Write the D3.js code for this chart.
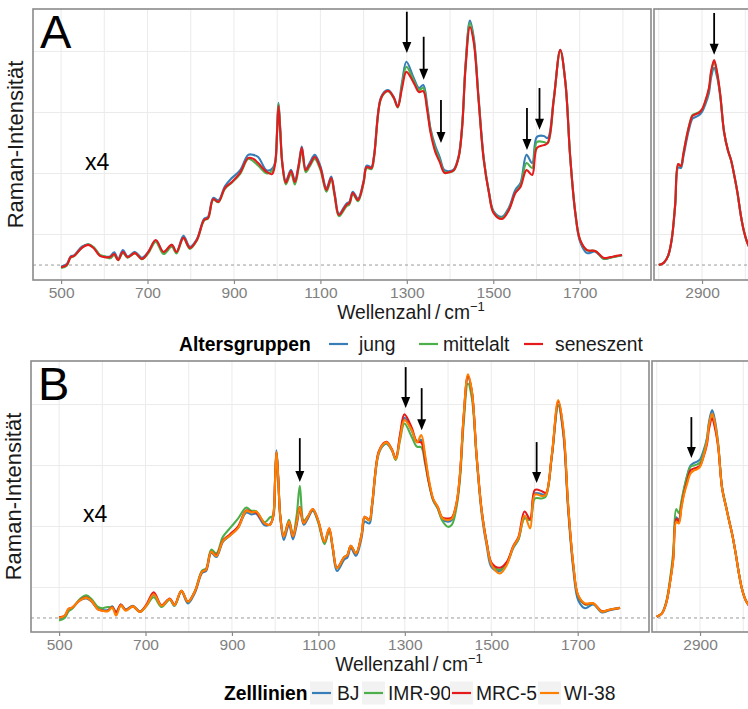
<!DOCTYPE html>
<html>
<head>
<meta charset="utf-8">
<script src="https://cdn.jsdelivr.net/npm/d3@7"></script>
<style>
  body { margin: 0; background: #fff; }
  svg { display: block; font-family: "Liberation Sans", Arial, Helvetica, sans-serif; }
</style>
</head>
<body>
<svg id="chart" width="748" height="709"></svg>
<script>
// ---- wavenumber grids (cm^-1) ----
const fpWavenumber = [500,513,522,530,548,563,575,590,600,613,623,632,643,654,671,687,702,719,737,756,
  767,783,798,814,831,840,852,864,879,895,914,933,945,956,976,988,995,1000,1003,1007,
  1012,1020,1032,1041,1050,1057,1066,1075,1087,1100,1114,1125,1133,1143,1160,1167,1175,1187,1200,1207,
  1218,1224,1239,1250,1258,1270,1279,1289,1299,1316,1328,1338,1347,1355,1366,1376,1387,1400,1409,1420,
  1428,1436,1446,1455,1466,1478,1490,1501,1520,1536,1551,1563,1577,1590,1601,1617,1626,1640,1655,1667,
  1678,1690,1701,1717,1736,1756,1771,1785,1798];
const hwWavenumber = [2800,2812,2822,2830,2838,2845,2851,2857,2863,2870,2878,2885,2892,2900,2907,2916,2921,2928,2935,2942,
  2951,2960,2967,2975,2982,2990,2997,3005,3015,3030,3050,3070,3090];

// ---- A: age groups, fingerprint region (x4) ----
const jungFP = [-0.5,0.3,2.8,3.2,6.0,6.8,5.8,3.2,2.8,2.8, 4.2,2.0,4.9,2.8,4.3,2.4,4.4,8.0,4.2,6.6,
  4.2,9.6,6.0,8.4,15.2,15.8,22.0,21.2,25.8,28.5, 31.0,36.1,36.1,35.4,31.0,31.5,33.5,45.0,53.2,45.0,
  33.5,27.6,31.2,27.8,33.2,38.8,31.5,33.4,36.1,32.4, 25.2,29.0,23.5,16.8,20.1,20.7,24.0,21.8,27.6,32.6,
  32.2,35.8,54.5,57.0,57.3,55.0,52.0,60.0,66.6,61.3, 58.0,59.0,52.5,44.6,39.0,35.4,31.1,30.8,31.4,35.8,
  45.8,66.0,80.1,74.4,55.0,35.0,24.0,17.6,15.8,18.8, 24.6,26.9,36.1,33.4,42.0,42.3,41.6,54.6,70.5,59.7,
  35.4,16.6,7.6,3.9,4.4,2.0,2.5,2.9,3.2];
const mittelaltFP = [-1.0,-0.2,2.4,2.9,5.6,6.8,5.9,3.3,2.9,2.2, 3.2,1.6,4.0,2.4,3.9,1.9,3.9,7.6,3.6,6.0,
  3.8,8.8,5.3,8.0,14.6,15.2,21.4,20.6,25.0,27.0, 29.8,34.8,34.0,32.6,30.0,30.8,33.0,44.5,52.8,44.5,
  33.0,26.4,30.0,26.4,32.0,37.6,30.4,32.2,34.8,31.2, 24.0,28.0,22.6,16.0,19.2,19.8,23.2,20.9,26.8,31.8,
  31.4,35.0,54.0,56.6,56.9,54.6,51.6,59.0,65.0,60.5, 57.4,58.0,51.6,44.0,38.0,34.4,30.5,30.4,31.0,35.3,
  45.0,65.4,79.3,73.6,54.4,34.6,23.8,17.2,15.4,18.2, 23.6,26.1,33.4,31.8,40.3,40.3,40.0,54.1,70.2,59.8,
  35.6,17.2,8.2,4.8,4.6,2.0,2.4,2.8,3.2];
const seneszentFP = [-0.7,0.0,2.6,3.0,5.6,6.6,5.6,3.0,2.6,2.6, 3.6,1.6,4.3,2.6,3.9,2.0,4.3,8.2,4.3,6.6,
  4.3,8.9,5.6,8.2,14.8,15.4,21.6,20.7,25.2,27.2, 30.2,35.1,34.8,33.4,30.5,29.8,33.0,44.0,52.1,44.0,
  33.0,27.0,30.8,27.2,32.8,38.4,31.1,32.8,35.4,31.8, 24.6,28.5,23.0,16.4,19.7,20.3,23.6,21.3,27.2,32.1,
  31.8,35.4,54.1,56.7,57.0,54.8,51.8,58.0,63.3,59.7, 56.7,57.0,50.8,43.3,37.0,33.8,30.2,30.5,31.1,35.4,
  45.2,64.9,78.0,72.8,54.1,34.4,23.6,17.0,15.1,18.0, 23.6,25.6,31.1,29.5,38.4,39.3,40.0,54.1,70.5,59.7,
  35.4,17.0,8.2,4.9,4.6,2.3,2.6,3.0,3.3];

// ---- A: age groups, high-wavenumber region ----
const jungHW = [0.0,0.8,3.2,8.3,19.5,32.0,31.8,35.6,40.0,44.5,48.0,48.5,49.0,50.2,52.4,56.4,61.5,64.6,61.5,55.4,
  43.4,37.5,34.4,29.0,23.6,16.0,11.0,7.2,4.5,2.5,1.2,0.6,0.3];
const mittelaltHW = [0.0,0.8,3.2,8.5,20.0,33.0,32.4,36.6,41.2,45.6,49.2,49.6,50.0,51.0,53.3,57.6,63.0,66.6,62.6,55.8,
  43.6,37.5,34.4,29.0,23.6,16.0,11.0,7.2,4.5,2.5,1.2,0.6,0.3];
const seneszentHW = [0.0,0.8,3.2,8.5,20.0,33.1,32.4,36.5,41.0,45.5,48.9,49.4,49.8,51.0,53.5,58.0,63.5,67.2,63.0,56.0,
  43.6,37.5,34.4,29.0,23.6,16.0,11.0,7.2,4.5,2.5,1.2,0.6,0.3];

// ---- B: cell lines, fingerprint region (x4) ----
const bjFP = [-0.3,0.4,2.6,3.2,5.8,6.4,5.4,3.0,2.6,2.6, 3.8,1.8,4.4,2.8,4.0,2.2,4.0,7.6,4.0,6.2,
  4.0,8.6,4.8,8.2,14.8,15.4,21.4,20.0,25.0,27.0, 29.6,34.6,34.0,34.2,30.4,30.8,33.0,46.5,55.0,46.5,
  32.6,25.6,30.6,25.8,30.6,35.6,30.6,32.4,35.2,31.4, 24.6,28.8,22.8,15.4,19.2,19.8,23.0,20.4,26.4,31.6,
  31.0,36.0,53.6,56.6,57.2,55.0,52.0,59.6,65.7,61.4, 57.8,58.4,52.6,45.4,38.6,36.0,32.4,31.6,32.2,37.6,
  47.6,65.6,79.2,74.2,52.8,34.0,23.2,16.6,15.4,17.8, 23.0,25.8,33.0,32.1,40.9,40.6,40.4,52.8,69.8,60.0,
  35.2,15.8,5.9,3.2,4.4,1.8,2.4,2.9,3.4];
const imr90FP = [-0.8,0.0,2.2,3.0,6.2,7.4,6.2,3.6,3.2,3.6, 3.4,2.0,4.0,2.6,3.8,2.0,4.0,6.8,3.6,6.0,
  4.0,8.9,5.3,8.8,15.6,16.2,22.4,21.2,26.6,29.4, 32.6,36.2,35.2,35.0,31.4,33.0,33.5,45.5,54.0,45.5,
  33.4,27.0,32.2,27.2,34.0,43.4,32.0,33.2,35.4,31.2, 24.2,28.8,23.0,16.3,20.0,20.6,23.7,21.2,27.4,33.0,
  32.0,37.0,54.0,56.8,57.4,55.0,51.8,58.4,63.8,59.4, 56.2,56.0,50.6,44.6,38.4,36.0,31.8,29.9,30.6,36.6,
  46.2,63.6,76.9,72.2,52.8,35.0,24.4,17.8,15.8,18.0, 23.2,25.8,32.7,32.2,39.2,39.2,39.8,52.8,69.8,61.0,
  36.6,17.0,7.2,4.4,4.6,2.1,2.6,3.0,3.3];
const mrc5FP = [0.2,0.8,3.0,3.4,5.8,6.8,5.6,2.8,2.4,2.4, 3.6,1.8,4.4,2.6,3.8,2.0,4.4,8.4,4.2,6.4,
  4.4,8.9,5.4,8.6,15.2,15.8,21.7,20.6,25.4,27.4, 30.0,35.3,34.8,34.6,31.0,30.6,33.0,46.0,54.3,46.0,
  33.2,26.8,31.6,26.8,31.5,36.4,31.1,33.0,35.7,31.8, 25.0,29.4,23.4,16.5,20.0,20.6,23.7,21.2,27.4,33.2,
  32.2,37.0,54.4,57.2,57.8,55.4,52.4,60.2,66.8,62.4, 57.8,57.6,51.6,45.0,38.8,36.5,32.9,32.6,33.0,38.0,
  47.8,65.8,79.4,74.4,53.6,35.2,24.4,18.0,16.5,18.4, 23.6,26.6,34.9,32.4,42.0,41.6,41.0,53.2,71.0,61.0,
  36.6,17.2,7.4,4.6,4.8,2.2,2.6,3.0,3.3];
const wi38FP = [0.0,0.8,3.0,3.4,5.8,6.6,5.6,2.8,2.4,2.2, 3.4,0.8,4.2,2.4,3.8,2.0,4.0,7.8,4.0,6.2,
  4.2,8.9,5.3,8.6,15.2,15.8,21.7,20.3,25.2,27.0, 29.5,35.1,34.6,34.9,31.0,30.6,33.0,46.0,54.5,46.0,
  33.0,26.7,31.6,26.8,31.5,36.2,31.1,33.0,35.7,31.8, 25.0,29.4,23.4,16.3,20.0,20.6,23.7,21.2,27.4,33.2,
  32.0,37.0,54.0,57.0,57.6,55.2,52.1,59.0,64.9,61.6, 57.6,60.0,53.4,46.0,39.0,36.5,32.7,32.1,32.6,38.1,
  48.0,66.0,79.9,74.6,53.4,34.9,24.0,17.4,14.6,17.4, 23.4,26.3,33.6,29.4,40.5,40.0,40.4,53.4,71.5,62.0,
  37.0,17.4,7.5,4.8,4.8,2.1,2.6,3.0,3.3];

// ---- B: cell lines, high-wavenumber region ----
const bjHW = [0.4,1.5,5.0,11.2,19.6,33.0,32.2,37.4,42.0,46.5,50.0,50.8,51.2,52.0,54.4,59.0,64.5,68.2,64.4,57.0,
  42.8,36.6,32.0,27.0,21.5,14.5,9.5,6.0,3.8,2.0,1.0,0.5,0.3];
const imr90HW = [0.4,1.6,5.4,12.0,21.5,35.7,34.4,38.4,42.6,46.5,49.6,50.0,50.3,51.0,53.5,58.4,63.8,66.9,63.0,56.6,
  42.8,36.8,32.2,27.0,21.5,14.5,9.5,6.0,3.8,2.0,1.0,0.5,0.3];
const mrc5HW = [0.4,1.5,5.0,11.0,19.2,32.5,31.6,36.6,41.0,44.8,48.5,49.0,49.3,50.0,52.4,57.0,62.2,65.5,62.0,56.0,
  42.4,36.5,32.0,27.0,21.5,14.5,9.5,6.0,3.8,2.0,1.0,0.5,0.3];
const wi38HW = [0.4,1.5,5.0,11.0,19.0,31.5,31.0,36.0,40.5,44.0,47.4,48.3,48.7,49.6,52.5,57.8,63.5,67.1,63.5,56.5,
  42.5,36.5,32.0,27.0,21.5,14.5,9.5,6.0,3.8,2.0,1.0,0.5,0.3];

// ---- axis ticks and annotation arrows ----
const fpTicks = [500, 700, 900, 1100, 1300, 1500, 1700];
const hwTicks = [2900];
const fpGrid = d3.range(500, 1801, 100);
const hwGrid = d3.range(2800, 3101, 100);
const yGrid = [10, 30, 50, 70];

const arrowsA_FP = [{w:1300, from:83.0, to:69.5}, {w:1339, from:74.8, to:60.7}, {w:1379, from:54.1, to:40.0},
                    {w:1578, from:51.5, to:37.7}, {w:1607, from:58.0, to:44.3}];
const arrowsA_HW = [{w:2928, from:82.6, to:68.9}];
const arrowsB_FP = [{w:1057, from:59.0, to:44.6}, {w:1302, from:82.3, to:68.9}, {w:1339, from:75.4, to:61.6},
                    {w:1605, from:57.7, to:44.3}];
const arrowsB_HW = [{w:2880, from:65.9, to:52.5}];

const colBlue = "#377EB8", colGreen = "#4DAF4A", colRed = "#E41A1C", colOrange = "#FF7F00";

const rows = [
  {
    label: "A", top: 9, bottom: 280, left: 33, split: 651, right0: 654, right1: 789,
    yDomain: [-4.9, 83.9],
    series: [
      {name: "jung", color: colBlue, fp: jungFP, hw: jungHW},
      {name: "mittelalt", color: colGreen, fp: mittelaltFP, hw: mittelaltHW},
      {name: "seneszent", color: colRed, fp: seneszentFP, hw: seneszentHW}
    ],
    arrowsFP: arrowsA_FP, arrowsHW: arrowsA_HW,
    legendTitle: "Altersgruppen", legendY: 344, legendBoxed: false,
    legendTitleX: 179, legendKeyX: [329, 419, 524], legendTextX: [359, 443, 555]
  },
  {
    label: "B", top: 361, bottom: 632, left: 31, split: 649, right0: 652, right1: 787,
    yDomain: [-4.6, 84.3],
    series: [
      {name: "BJ", color: colBlue, fp: bjFP, hw: bjHW},
      {name: "IMR-90", color: colGreen, fp: imr90FP, hw: imr90HW},
      {name: "MRC-5", color: colRed, fp: mrc5FP, hw: mrc5HW},
      {name: "WI-38", color: colOrange, fp: wi38FP, hw: wi38HW}
    ],
    arrowsFP: arrowsB_FP, arrowsHW: arrowsB_HW,
    legendTitle: "Zelllinien", legendY: 693, legendBoxed: true,
    legendTitleX: 224, legendKeyX: [310, 362, 450, 538], legendTextX: [337, 388, 476, 564]
  }
];

const svg = d3.select("#chart");
const defs = svg.append("defs");

rows.forEach((row, ri) => {
  const g = svg.append("g");
  const y = d3.scaleLinear().domain(row.yDomain).range([row.bottom, row.top]);
  const panels = [
    {x: d3.scaleLinear().domain([435, 1865]).range([row.left, row.split]),
     waves: fpWavenumber, key: "fp", ticks: fpTicks, grid: fpGrid, arrows: row.arrowsFP},
    {x: d3.scaleLinear().domain([2789, 3101]).range([row.right0, row.right1]),
     waves: hwWavenumber, key: "hw", ticks: hwTicks, grid: hwGrid, arrows: row.arrowsHW}
  ];

  panels.forEach((p, pi) => {
    const [x0, x1] = p.x.range();
    const clipId = `clip-${ri}-${pi}`;
    defs.append("clipPath").attr("id", clipId)
      .append("rect").attr("x", x0).attr("y", row.top).attr("width", x1 - x0).attr("height", row.bottom - row.top);
    const pg = g.append("g");

    // grid
    pg.append("g").selectAll("line").data(p.grid).join("line")
      .attr("x1", d => p.x(d)).attr("x2", d => p.x(d))
      .attr("y1", row.top).attr("y2", row.bottom)
      .attr("stroke", "#ebebeb").attr("stroke-width", 1);
    pg.append("g").selectAll("line").data(yGrid).join("line")
      .attr("x1", x0).attr("x2", x1)
      .attr("y1", d => y(d)).attr("y2", d => y(d))
      .attr("stroke", "#ebebeb").attr("stroke-width", 1);

    // zero baseline
    pg.append("line").attr("x1", x0).attr("x2", x1).attr("y1", y(0)).attr("y2", y(0))
      .attr("stroke", "#9a9a9a").attr("stroke-width", 1).attr("stroke-dasharray", "3,3");

    // spectra
    const line = d3.line().x((d, i) => p.x(p.waves[i])).y(d => y(d)).curve(d3.curveCatmullRom.alpha(0.5));
    const sg = pg.append("g").attr("clip-path", `url(#${clipId})`);
    row.series.forEach(s => {
      sg.append("path").attr("d", line(s[p.key])).attr("fill", "none")
        .attr("stroke", s.color).attr("stroke-width", 2.1).attr("stroke-linejoin", "round");
    });

    // arrows
    const ag = pg.append("g").attr("clip-path", `url(#${clipId})`);
    p.arrows.forEach(a => {
      const ax = p.x(a.w), yt = y(a.from), yb = y(a.to);
      ag.append("line").attr("x1", ax).attr("x2", ax).attr("y1", yt).attr("y2", yb - 8)
        .attr("stroke", "#000").attr("stroke-width", 1.8);
      ag.append("path").attr("d", `M${ax},${yb} L${ax - 4.5},${yb - 11} L${ax + 4.5},${yb - 11} Z`).attr("fill", "#000");
    });

    // border
    pg.append("rect").attr("x", x0).attr("y", row.top).attr("width", x1 - x0).attr("height", row.bottom - row.top)
      .attr("fill", "none").attr("stroke", "#8a8a8a").attr("stroke-width", 1.6);

    // x axis
    const axis = d3.axisBottom(p.x).tickValues(p.ticks).tickFormat(d3.format("d"))
      .tickSize(4).tickPadding(3).tickSizeOuter(0);
    const axg = pg.append("g").attr("transform", `translate(0,${row.bottom})`).call(axis);
    axg.select(".domain").remove();
    axg.selectAll(".tick line").attr("stroke", "#8a8a8a").attr("stroke-width", 1.2);
    axg.selectAll(".tick text").attr("fill", "#808080").attr("font-size", 15.5)
      .attr("font-family", "Liberation Sans, Arial, sans-serif");
  });

  // panel tag and scale factor
  g.append("text").attr("x", row.left + 7).attr("y", row.top + 39).attr("font-size", 47).attr("fill", "#000").text(row.label);
  g.append("text").attr("x", row.left + 52).attr("y", row.top + 161).attr("font-size", 23).attr("fill", "#000").text("x4");

  // y axis title
  g.append("text")
    .attr("transform", `translate(${row.left - 10},${(row.top + row.bottom) / 2}) rotate(-90)`)
    .attr("text-anchor", "middle").attr("font-size", 22).attr("fill", "#1a1a1a")
    .text("Raman-Intensität");

  // x axis title
  const xt = g.append("text").attr("x", 411 - (ri ? 2 : 0)).attr("y", row.bottom + 39)
    .attr("text-anchor", "middle").attr("font-size", 19.3).attr("fill", "#1a1a1a");
  xt.append("tspan").text("Wellenzahl\u2009/\u2009cm");
  xt.append("tspan").attr("dy", -8).attr("font-size", 13).text("\u22121");

  // legend
  const lg = g.append("g");
  const ly = row.legendY;
  lg.append("text").attr("x", row.legendTitleX).attr("y", ly + 7).attr("font-size", 19.3)
    .attr("font-weight", "bold").attr("fill", "#000").text(row.legendTitle);
  row.series.forEach((s, i) => {
    const kx = row.legendKeyX[i];
    if (row.legendBoxed) {
      lg.append("rect").attr("x", kx).attr("y", ly - 11.5).attr("width", 23).attr("height", 23).attr("fill", "#f2f2f2");
      lg.append("line").attr("x1", kx + 2).attr("x2", kx + 21).attr("y1", ly).attr("y2", ly)
        .attr("stroke", s.color).attr("stroke-width", 2.2);
    } else {
      lg.append("line").attr("x1", kx).attr("x2", kx + 19).attr("y1", ly).attr("y2", ly)
        .attr("stroke", s.color).attr("stroke-width", 2.2);
    }
    lg.append("text").attr("x", row.legendTextX[i]).attr("y", ly + 7).attr("font-size", 19.3)
      .attr("fill", "#1a1a1a").text(s.name);
  });
});
</script>
</body>
</html>
